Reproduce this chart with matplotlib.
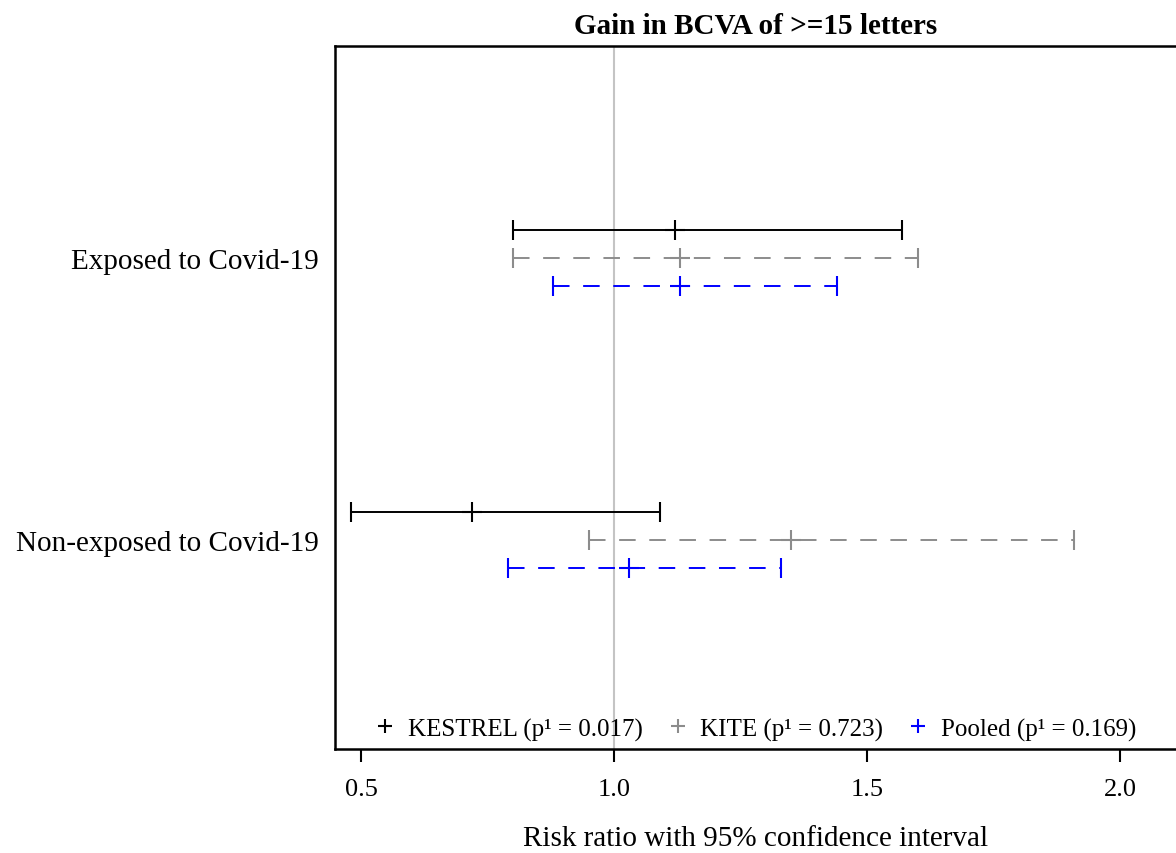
import matplotlib.pyplot as plt
from matplotlib.lines import Line2D

plt.rcParams['font.family'] = ['Liberation Serif', 'DejaVu Serif']

groups = ["Non-exposed to Covid-19", "Exposed to Covid-19"]
studies = ["KESTREL", "KITE", "Pooled"]
p_values = ["0.017", "0.723", "0.169"]

# risk ratio estimates and 95% CI, one list per study, ordered as groups
est = {"KESTREL": [0.72, 1.12], "KITE": [1.35, 1.13], "Pooled": [1.03, 1.13]}
low = {"KESTREL": [0.48, 0.80], "KITE": [0.95, 0.80], "Pooled": [0.79, 0.88]}
high = {"KESTREL": [1.09, 1.57], "KITE": [1.91, 1.60], "Pooled": [1.33, 1.44]}

colors = {"KESTREL": "black", "KITE": "#8c8c8c", "Pooled": "#0000ff"}
styles = {"KESTREL": "-", "KITE": (0, (8.5, 7)), "Pooled": (0, (8.5, 7))}
offsets = {"KESTREL": 0.1, "KITE": 0.0, "Pooled": -0.1}

fig = plt.figure(figsize=(11.76, 8.54), dpi=100)
ax = fig.add_axes([0.2849, 0.1218, 0.7151, 0.8232])

ax.axvline(1.0, color="#c4c4c4", lw=1.5, zorder=0)

for s in studies:
    ys = [i + offsets[s] for i in range(len(groups))]
    xerr = [[e - l for e, l in zip(est[s], low[s])],
            [h - e for e, h in zip(est[s], high[s])]]
    line, caps, bars = ax.errorbar(est[s], ys, xerr=xerr, fmt="+", color=colors[s],
                                   ms=14, mew=1.5, elinewidth=1.4, capsize=7.5,
                                   capthick=1.4)
    bars[0].set_linestyle(styles[s])

ax.set_xlim(0.4486, 2.1107)
ax.set_ylim(-0.741, 1.752)
ax.set_xticks([0.5, 1.0, 1.5, 2.0])
ax.set_xticklabels(["0.5", "1.0", "1.5", "2.0"])
ax.set_yticks(range(len(groups)))
ax.set_yticklabels(groups)
ax.tick_params(axis="y", length=0, pad=12, labelsize=21)
ax.tick_params(axis="x", length=9, width=1.5, pad=12, labelsize=19)

for side in ["left", "bottom", "top"]:
    ax.spines[side].set_linewidth(1.8)
ax.spines["right"].set_visible(False)

ax.set_title("Gain in BCVA of >=15 letters", fontsize=21, fontweight="bold", pad=9)
ax.set_xlabel("Risk ratio with 95% confidence interval", fontsize=21, labelpad=18)

handles = [Line2D([], [], ls="none", marker="+", color=colors[s], ms=10, mew=1.5)
           for s in studies]
labels = [f"{s} (p\u00b9 = {p})" for s, p in zip(studies, p_values)]
ax.legend(handles, labels, loc="lower center", ncol=3, frameon=False, fontsize=18,
          handlelength=0.8, handletextpad=0.5, columnspacing=1.0,
          bbox_to_anchor=(0.5, -0.02))

fig.savefig("out.png", dpi=100)
